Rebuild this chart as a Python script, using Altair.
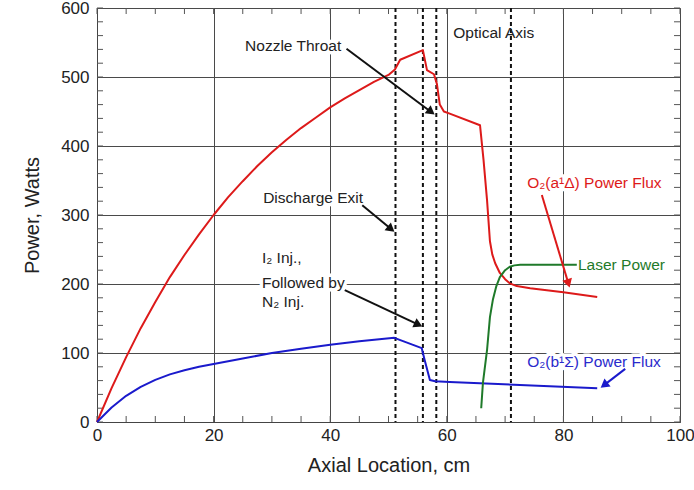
import math
import altair as alt
import pandas as pd

# ---- data ----
red_x = [0, 2.5, 5, 7.5, 10, 12.5, 15, 17.5, 20, 22.5, 25, 27.5, 30, 32.5, 35, 37.5, 40, 42.5, 45, 47.5, 50, 51.1,
         52.0, 55.9, 56.6, 57.8, 58.3, 58.8, 59.5, 60.5, 65.7,
         66.3, 66.9, 67.4, 67.8, 68.3, 69.1, 70.0, 70.8, 72.0, 74.3, 80, 85.8]
red_y = [0, 49, 94, 136, 174, 210, 242, 272, 300, 326, 349, 371, 391, 409, 426, 441, 456, 469, 481, 493, 503, 511,
         525, 539, 510, 504, 490, 460, 450, 447, 430,
         380, 322, 262, 243, 230, 216, 207, 201, 197, 194, 188, 181]

blue_x = [0, 2.5, 5, 7.5, 10, 12.5, 15, 17.5, 20, 25, 30, 35, 40, 45, 51, 55.7, 56.2, 57.1, 58, 60.5, 85.8]
blue_y = [0, 21, 38, 51, 61, 69, 75, 80, 84, 92, 100, 106, 112, 117, 122, 107, 90, 61, 59, 58, 49]

green_x = [65.9, 66.2, 66.9, 67.4, 67.9, 68.5, 69.1, 70.0, 70.8, 71.6, 72.6, 82.3]
green_y = [20, 57, 104, 152, 177, 197, 210, 220, 225, 227, 228, 228]

dashed_x = [51.2, 55.9, 58.2, 71.0]

x_major = [0, 20, 40, 60, 80, 100]
y_major = [0, 100, 200, 300, 400, 500, 600]
x_minor = list(range(0, 101, 5))
y_minor = list(range(0, 601, 20))

# annotation texts (left x, center y, text, colour)
ann_x = [25.4, 61.1, 28.5, 28.3, 28.3, 28.3, 73.8, 82.5, 73.8]
ann_y = [545, 564, 325, 238, 201, 174, 346, 228, 87]
ann_text = ["Nozzle Throat", "Optical Axis", "Discharge Exit", "I\u2082 Inj.,", "Followed by", "N\u2082 Inj.",
            "O\u2082(a\u00b9\u0394) Power Flux", "Laser Power", "O\u2082(b\u00b9\u03a3) Power Flux"]
ann_color = ["#222222", "#222222", "#222222", "#222222", "#222222", "#222222", "#dd1a1a", "#1f7a2a", "#2a2acc"]

# arrows (start -> tip)
arr_x1 = [42.8, 45.5, 42.5, 76.3, 90.6]
arr_y1 = [541, 314, 191, 329, 77]
arr_x2 = [58.0, 51.1, 55.9, 81.1, 86.3]
arr_y2 = [445, 275, 138, 194, 49]
arr_color = ["#111111", "#111111", "#111111", "#dd1a1a", "#1a1acc"]

# ---- layout ----
W, H = 583, 414
PX = W / 100.0
PY = H / 600.0

xs = alt.Scale(domain=[0, 100], nice=False, zero=False)
ys = alt.Scale(domain=[0, 600], nice=False, zero=False)
FONT = "Liberation Sans"

xax = alt.Axis(values=x_major, grid=True, gridColor="#4a4a4a", gridWidth=1, ticks=False,
               labelFontSize=17, labelColor="#222222", labelFont=FONT, labelPadding=5, labelFlush=False,
               title="Axial Location, cm", titleFont=FONT, titleFontSize=20, titleFontWeight="normal",
               titleColor="#222222", titlePadding=12, domainColor="#444444", format="d")
yax = alt.Axis(values=y_major, grid=True, gridColor="#4a4a4a", gridWidth=1, ticks=False,
               labelFontSize=17, labelColor="#222222", labelFont=FONT, labelPadding=8, labelFlush=False,
               title="Power, Watts", titleFont=FONT, titleFontSize=20, titleFontWeight="normal",
               titleColor="#222222", titlePadding=18, domainColor="#444444", format="d")

def X(f):
    return alt.X(f, type="quantitative", scale=xs, axis=xax)

def Y(f):
    return alt.Y(f, type="quantitative", scale=ys, axis=yax)

xm = pd.DataFrame({"x": x_minor})
ym = pd.DataFrame({"y": y_minor})
tick_col = "#555555"
minor_bottom = alt.Chart(xm).mark_rule(color=tick_col).encode(x=X("x"), y=alt.value(H), y2=alt.value(H - 6))
minor_top = alt.Chart(xm).mark_rule(color=tick_col).encode(x=X("x"), y=alt.value(0), y2=alt.value(6))
minor_left = alt.Chart(ym).mark_rule(color=tick_col).encode(y=Y("y"), x=alt.value(0), x2=alt.value(6))
minor_right = alt.Chart(ym).mark_rule(color=tick_col).encode(y=Y("y"), x=alt.value(W), x2=alt.value(W - 6))

dash_df = pd.DataFrame({"x": dashed_x})
dashed = alt.Chart(dash_df).mark_rule(color="#111111", strokeWidth=2, strokeDash=[4, 3]).encode(x=X("x"))

def curve(xv, yv, color):
    df = pd.DataFrame({"x": xv, "y": yv, "o": list(range(len(xv)))})
    return alt.Chart(df).mark_line(color=color, strokeWidth=2, strokeJoin="round").encode(
        x=X("x"), y=Y("y"), order="o:Q")

red = curve(red_x, red_y, "#dd1a1a")
blue = curve(blue_x, blue_y, "#1a1acc")
green = curve(green_x, green_y, "#1f7a2a")

# arrows
rows = []
for x1, y1, x2, y2, c in zip(arr_x1, arr_y1, arr_x2, arr_y2, arr_color):
    dxp = (x2 - x1) * PX
    dyp = -(y2 - y1) * PY
    L = math.hypot(dxp, dyp)
    ang = math.degrees(math.atan2(dxp, -dyp)) % 360
    back = 5.0
    hx = x2 - (dxp / L) * back / PX
    hy = y2 + (dyp / L) * back / PY
    rows.append({"x1": x1, "y1": y1, "x2": hx, "y2": hy, "hx": hx, "hy": hy, "ang": ang, "c": c})
arr_df = pd.DataFrame(rows)
arrow_lines = alt.Chart(arr_df).mark_rule(strokeWidth=2).encode(
    x=X("x1"), y=Y("y1"), x2="x2:Q", y2="y2:Q", color=alt.Color("c:N", scale=None))
arrow_heads = alt.Chart(arr_df).mark_point(shape="triangle-up", filled=True, size=100, opacity=1).encode(
    x=X("hx"), y=Y("hy"), angle=alt.Angle("ang:Q", scale=None), color=alt.Color("c:N", scale=None))

ann_df = pd.DataFrame({"x": ann_x, "y": ann_y, "t": ann_text, "c": ann_color})
halo = alt.Chart(ann_df).mark_text(align="left", baseline="middle", font=FONT, fontSize=15.5,
                                   stroke="white", strokeWidth=7, strokeJoin="round", fill="white").encode(
    x=X("x"), y=Y("y"), text="t:N")
labels = alt.Chart(ann_df).mark_text(align="left", baseline="middle", font=FONT, fontSize=15.5).encode(
    x=X("x"), y=Y("y"), text="t:N", color=alt.Color("c:N", scale=None))

chart = alt.layer(halo, minor_bottom, minor_top, minor_left, minor_right, dashed,
                  red, blue, green, arrow_lines, arrow_heads, labels).properties(
    width=W, height=H,
    autosize=alt.AutoSizeParams(type="none"),
    padding={"left": 97, "top": 8, "right": 14, "bottom": 68},
).configure_view(stroke="#444444", strokeWidth=1.5).configure(background="white")

chart.save("out.html", embed_options={"renderer": "svg", "actions": False})
